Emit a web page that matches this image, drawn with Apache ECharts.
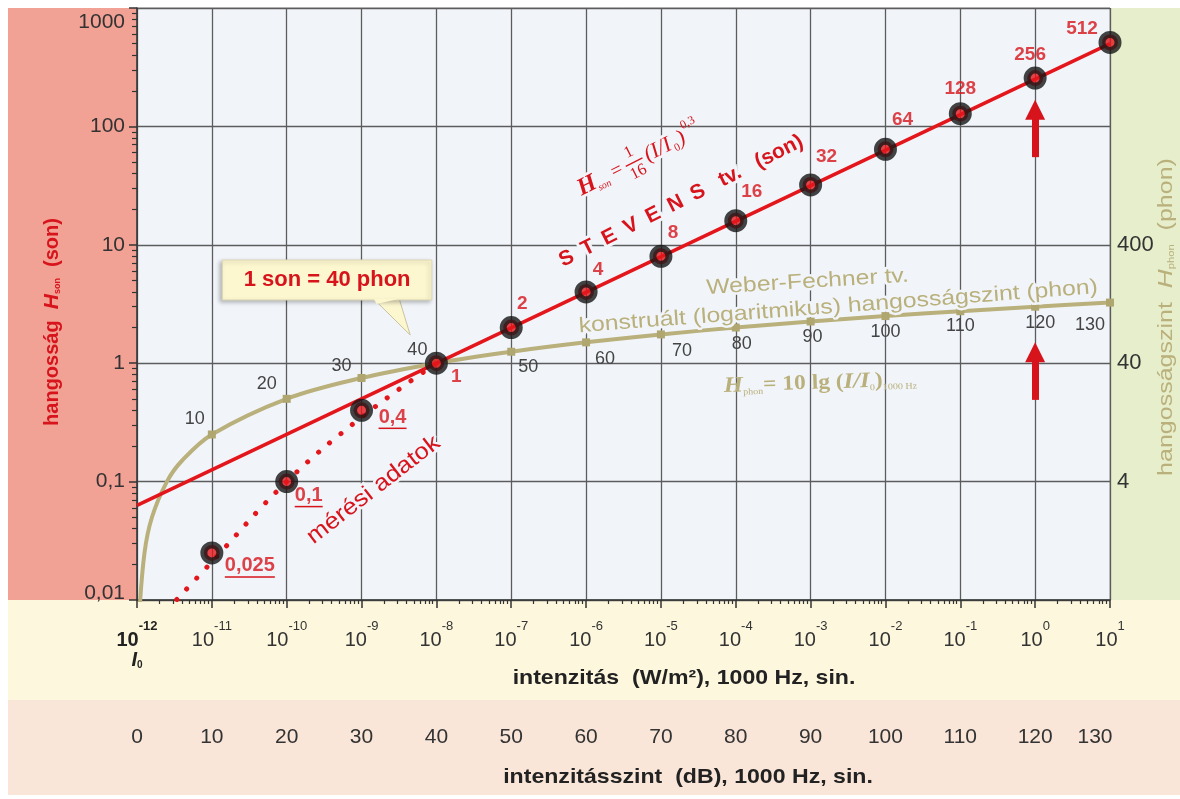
<!DOCTYPE html>
<html>
<head>
<meta charset="utf-8">
<script src="https://cdn.jsdelivr.net/npm/echarts@6/dist/echarts.min.js"></script>
<style>
html, body { margin: 0; padding: 0; background: #fff; }
#wrap { position: relative; width: 1180px; height: 799px; overflow: hidden; }
.band { position: absolute; }
#chart { position: absolute; left: 0; top: 0; width: 1180px; height: 799px; }
</style>
</head>
<body>
<div id="wrap">
  <div class="band" style="left:8px;top:8px;width:129px;height:592px;background:#f2a195"></div>
  <div class="band" style="left:1110px;top:8px;width:70px;height:592px;background:#e6eecb"></div>
  <div class="band" style="left:8px;top:600px;width:1172px;height:100px;background:#fcf7dd"></div>
  <div class="band" style="left:8px;top:700px;width:1172px;height:95px;background:#f9e6d8"></div>
  <div id="chart"></div>
</div>
<script>
// intenzitásszint (dB) a vízszintes tengelyen
var dbTicks = [0, 10, 20, 30, 40, 50, 60, 70, 80, 90, 100, 110, 120, 130];
var intensityExp = ['-12', '-11', '-10', '-9', '-8', '-7', '-6', '-5', '-4', '-3', '-2', '-1', '0', '1'];

// mérési adatok (son)
var measuredDb = [10, 20, 30, 40, 50, 60, 70, 80, 90, 100, 110, 120, 130];
var measuredSon = [0.025, 0.1, 0.4, 1, 2, 4, 8, 16, 32, 64, 128, 256, 512];
var measuredText = ['0,025', '0,1', '0,4', '1', '2', '4', '8', '16', '32', '64', '128', '256', '512'];

// Stevens egyenes
var stevensDb = [0, 130];
var stevensSon = [0.063, 500];

// pontozott mérési görbe
var trendDb = [4, 10, 20, 30, 40];
var trendSon = [0.0082, 0.021, 0.1, 0.35, 1];

// Weber-Fechner görbe (son skálán)
var phonDb = [0.3, 1, 2, 4, 6, 10, 20, 30, 40, 50, 60, 70, 80, 90, 100, 110, 120, 130];
var phonSon = [0.0075, 0.025, 0.05, 0.1, 0.15, 0.25, 0.5, 0.75, 1, 1.25, 1.5, 1.75, 2, 2.25, 2.5, 2.75, 3, 3.25];
var phonMarked = [10, 20, 30, 40, 50, 60, 70, 80, 90, 100, 110, 120, 130];

// tengelyfeliratok
var sonTicks = [0.01, 0.1, 1, 10, 100, 1000];
var sonTickText = ['0,01', '0,1', '1', '10', '100', '1000'];
var phonTicks = [0.1, 1, 10];
var phonTickText = ['4', '40', '400'];

// kis osztások
var decadeMinorDb = [3.0, 4.8, 6.0, 7.0, 7.8, 8.5, 9.0, 9.5];
var logMinorMult = [2, 3, 4, 5, 6, 7, 8, 9];

// piros nyilak a 120 dB-nél (alj, hegy)
var arrowDb = 120;
var arrowSpans = [[55, 138], [0.49, 1.24]];

var FONT = '"Liberation Sans", Arial, sans-serif';
var SERIF = '"Liberation Serif", "DejaVu Serif", serif';
var RED = '#e3161c';
var LRED = '#d7141c';
var OLIVE = '#b9b07c';

// label offsets (style, not data)
var measuredLabelOffset = [[38, 13], [22, 14], [31, 7], [20, 14], [11, -24], [12, -22], [12, -24], [16, -29], [16, -28], [17, -30], [0, -25], [-5, -23], [-28, -14]];
var phonLabelOffset = [[-17, -15], [-20, -15], [-20, -12], [-19, -13], [17, 15], [19, 17], [21, 17], [6, 16], [2, 16], [0, 16], [0, 15], [5, 16], [-20, 22]];

function sameLog(a, b) { return Math.abs(Math.log10(a) - Math.log10(b)) < 1e-6; }

var minorDbTicks = [];
for (var d = 0; d < 130; d += 10) {
    decadeMinorDb.forEach(function (o) { minorDbTicks.push(d + o); });
}
var minorSonTicks = [];
[0.01, 0.1, 1, 10, 100].forEach(function (dec) {
    logMinorMult.forEach(function (m) { minorSonTicks.push(+(dec * m).toPrecision(3)); });
});

var chart = echarts.init(document.getElementById('chart'));

var option = {
    animation: false,
    backgroundColor: 'transparent',
    grid: { left: 137, right: 70, top: 8, bottom: 199, show: true, backgroundColor: '#f1f5fa', borderColor: '#9a9a9a', borderWidth: 1 },
    xAxis: [
        {
            type: 'value', min: 0, max: 130, interval: 10, position: 'bottom',
            axisLine: { show: true, onZero: false, lineStyle: { color: '#333', width: 1.5 } },
            axisTick: { show: true, length: 8, lineStyle: { color: '#333', width: 1.5 } },
            splitLine: { show: true, lineStyle: { color: '#5c5c5c', width: 1.3 } },
            axisLabel: {
                margin: 20, showMinLabel: true, showMaxLabel: true,
                formatter: function (v) {
                    var i = Math.round(v / 10);
                    if (i === 0) return '{b0|10}{bs|' + intensityExp[0] + '}\n{bi|I}{bsub|0}';
                    return '{n|10}{s|' + intensityExp[i] + '}';
                },
                rich: {
                    n: { fontSize: 20, color: '#333', fontFamily: FONT, padding: [10, 0, 0, 0] },
                    s: { fontSize: 13, color: '#333', fontFamily: FONT, verticalAlign: 'top' },
                    b0: { fontSize: 20, fontWeight: 'bold', color: '#222', fontFamily: FONT, padding: [10, 0, 0, 0] },
                    bs: { fontSize: 13, fontWeight: 'bold', color: '#222', fontFamily: FONT, verticalAlign: 'top' },
                    bi: { fontSize: 20, fontWeight: 'bold', fontStyle: 'italic', color: '#222', fontFamily: FONT },
                    bsub: { fontSize: 10, fontWeight: 'bold', color: '#222', fontFamily: FONT, verticalAlign: 'bottom' }
                }
            }
        },
        {
            type: 'value', min: 0, max: 130, interval: 10, position: 'bottom', offset: 121,
            axisLine: { show: false }, axisTick: { show: false }, splitLine: { show: false },
            axisLabel: {
                margin: 6, color: '#333', fontSize: 21, fontFamily: FONT, showMinLabel: true, showMaxLabel: true,
                formatter: function (v) { return v === 130 ? '{last|130}' : String(v); },
                rich: { last: { fontSize: 21, color: '#333', fontFamily: FONT, padding: [0, 30, 0, 0] } }
            }
        },
        {
            type: 'value', min: 0, max: 130, position: 'bottom',
            axisLine: { show: false }, splitLine: { show: false }, axisLabel: { show: false },
            axisTick: { show: true, length: 4, customValues: minorDbTicks, lineStyle: { color: '#333', width: 1.2 } }
        }
    ],
    yAxis: [
        {
            type: 'log', logBase: 10, min: 0.01, max: 1000, position: 'left',
            axisLine: { show: true, lineStyle: { color: '#333', width: 1.5 } },
            axisTick: { show: true, length: 8, lineStyle: { color: '#333', width: 1.5 } },
            splitLine: { show: true, lineStyle: { color: '#5c5c5c', width: 1.3 } },
            axisLabel: {
                margin: 12, color: '#333', fontSize: 21, fontFamily: FONT, showMinLabel: true, showMaxLabel: true,
                formatter: function (v) {
                    for (var i = 0; i < sonTicks.length; i++) {
                        if (sameLog(v, sonTicks[i])) {
                            if (i === sonTicks.length - 1) return '{top|' + sonTickText[i] + '}';
                            if (i === 0) return '{bot|' + sonTickText[i] + '}';
                            return sonTickText[i];
                        }
                    }
                    return '';
                },
                rich: {
                    top: { fontSize: 21, color: '#333', fontFamily: FONT, padding: [28, 0, 0, 0] },
                    bot: { fontSize: 21, color: '#333', fontFamily: FONT, padding: [0, 0, 14, 0] }
                }
            }
        },
        {
            type: 'log', logBase: 10, min: 0.01, max: 1000, position: 'right',
            axisLine: { show: false }, axisTick: { show: false }, splitLine: { show: false },
            axisLabel: {
                margin: 7, color: '#333', fontSize: 22, fontFamily: FONT,
                formatter: function (v) {
                    for (var i = 0; i < phonTicks.length; i++) if (sameLog(v, phonTicks[i])) return phonTickText[i];
                    return '';
                }
            }
        },
        {
            type: 'log', logBase: 10, min: 0.01, max: 1000, position: 'left',
            axisLine: { show: false }, splitLine: { show: false }, axisLabel: { show: false },
            axisTick: { show: true, length: 5, customValues: minorSonTicks, lineStyle: { color: '#333', width: 1.2 } }
        }
    ],
    series: [
        {
            type: 'line', name: 'Weber-Fechner', smooth: 0.35, z: 2, silent: true,
            lineStyle: { color: OLIVE, width: 4 },
            itemStyle: { color: '#b0a670' },
            data: phonDb.map(function (d, i) {
                var k = phonMarked.indexOf(d);
                return {
                    value: [d, phonSon[i]],
                    symbol: k >= 0 ? 'rect' : 'none',
                    symbolSize: 8,
                    label: k >= 0 ? {
                        show: true, position: 'inside', offset: phonLabelOffset[k],
                        formatter: String(d), color: '#444', fontSize: 18, fontFamily: FONT
                    } : { show: false }
                };
            })
        },
        {
            type: 'line', name: 'mérési görbe', smooth: 0.4, z: 3, silent: true, symbol: 'none',
            lineStyle: { color: RED, width: 5, type: [0.1, 14.5], cap: 'round' },
            data: trendDb.map(function (d, i) { return [d, trendSon[i]]; })
        },
        {
            type: 'line', name: 'Stevens', z: 4, silent: true, symbol: 'none',
            lineStyle: { color: RED, width: 3.5 },
            data: stevensDb.map(function (d, i) { return [d, stevensSon[i]]; }),
            markLine: {
                silent: true, symbol: ['none', 'triangle'], symbolSize: 20,
                label: { show: false }, emphasis: { disabled: true },
                lineStyle: { color: LRED, width: 7, type: 'solid' },
                data: arrowSpans.map(function (a) { return [{ coord: [arrowDb, a[0]] }, { coord: [arrowDb, a[1]] }]; })
            }
        },
        {
            type: 'scatter', name: 'mérési adatok', z: 6, silent: true,
            symbol: 'circle', symbolSize: 16,
            itemStyle: { color: RED, borderColor: '#151515', borderWidth: 7 },
            data: measuredDb.map(function (d, i) {
                return {
                    value: [d, measuredSon[i]],
                    label: {
                        show: true, position: 'inside', offset: measuredLabelOffset[i],
                        formatter: measuredText[i],
                        color: LRED, fontSize: i < 3 ? 20 : 19, fontWeight: 'bold', fontFamily: FONT
                    }
                };
            })
        }
    ]
};

chart.setOption(option);

function P(db, son) { return chart.convertToPixel({ xAxisIndex: 0, yAxisIndex: 0 }, [db, son]); }
var HALO = '#f1f5fa';
var deg = Math.PI / 180;

var stevensAt = P(72.7, 23.4);
var formulaAt = P(59, 29);
var wfAt = P(89.6, 4.85);
var konstAt = P(93.7, 2.99);
var hphonAt = P(91.3, 0.68);
var meresAt = P(31.6, 0.085);
var boxA = P(11.4, 7.44), boxB = P(39.4, 3.42);
var pA = P(31.5, 3.42), pB = P(35, 3.42), pTip = P(36.5, 1.73);

var SP = '\u2002';
var graphics = [
    {
        type: 'text', x: stevensAt[0], y: stevensAt[1], rotation: 26.7 * deg, z: 50,
        style: { text: ['S', 'T', 'E', 'V', 'E', 'N', 'S'].join(SP) + '   tv.   (son)', font: 'bold 21px ' + FONT, fill: LRED, align: 'center', verticalAlign: 'middle', stroke: HALO, lineWidth: 6, strokeFirst: true }
    },
    {
        type: 'group', x: formulaAt[0], y: formulaAt[1], rotation: 26.7 * deg, scaleX: 1.1, scaleY: 1.1, z: 50,
        children: [
            { type: 'text', x: 0, y: 0, style: { text: 'H', font: 'italic bold 22px ' + SERIF, fill: LRED, verticalAlign: 'middle', stroke: HALO, lineWidth: 5, strokeFirst: true } },
            { type: 'text', x: 17, y: 7, style: { text: 'son', font: 'italic 9px ' + SERIF, fill: LRED, verticalAlign: 'middle' } },
            { type: 'text', x: 34, y: 0, style: { text: '=', font: '18px ' + SERIF, fill: LRED, verticalAlign: 'middle' } },
            { type: 'text', x: 56, y: -10, style: { text: '1', font: '15px ' + SERIF, fill: LRED, align: 'center', verticalAlign: 'middle' } },
            { type: 'line', shape: { x1: 48, y1: 0, x2: 65, y2: 0 }, style: { stroke: LRED, lineWidth: 1.2 } },
            { type: 'text', x: 56, y: 10, style: { text: '16', font: '15px ' + SERIF, fill: LRED, align: 'center', verticalAlign: 'middle' } },
            { type: 'text', x: 68, y: 0, style: { text: '(I/I', font: 'italic 20px ' + SERIF, fill: LRED, verticalAlign: 'middle', stroke: HALO, lineWidth: 5, strokeFirst: true } },
            { type: 'text', x: 95, y: 6, style: { text: '0', font: '10px ' + SERIF, fill: LRED, verticalAlign: 'middle' } },
            { type: 'text', x: 101, y: 0, style: { text: ')', font: 'italic 20px ' + SERIF, fill: LRED, verticalAlign: 'middle' } },
            { type: 'text', x: 109, y: -10, style: { text: '0,3', font: '11px ' + SERIF, fill: LRED, verticalAlign: 'middle' } }
        ]
    },
    {
        type: 'text', x: wfAt[0], y: wfAt[1], rotation: 3.5 * deg, scaleX: 1.18, z: 50,
        style: { text: 'Weber-Fechner tv.', font: '21px ' + FONT, fill: OLIVE, align: 'center', verticalAlign: 'middle', stroke: HALO, lineWidth: 5, strokeFirst: true }
    },
    {
        type: 'text', x: konstAt[0], y: konstAt[1], rotation: 4.3 * deg, scaleX: 1.18, z: 50,
        style: { text: 'konstruált (logaritmikus) hangosságszint (phon)', font: '21px ' + FONT, fill: OLIVE, align: 'center', verticalAlign: 'middle', stroke: HALO, lineWidth: 5, strokeFirst: true }
    },
    {
        type: 'text', x: hphonAt[0], y: hphonAt[1], rotation: 2 * deg, scaleX: 1.12, z: 50,
        style: {
            text: '{h|H}{s|phon}{t|= 10 lg (}{h|I/I}{s|0}{t|)}{s|1000 Hz}', align: 'center', verticalAlign: 'middle',
            rich: {
                h: { font: 'italic bold 22px ' + SERIF, fill: OLIVE, textStroke: HALO, textStrokeWidth: 4 },
                t: { font: 'bold 21px ' + SERIF, fill: OLIVE, textStroke: HALO, textStrokeWidth: 4 },
                s: { font: '9px ' + SERIF, fill: OLIVE, verticalAlign: 'bottom' }
            }
        }
    },
    {
        type: 'text', x: meresAt[0], y: meresAt[1], rotation: 37.8 * deg, scaleX: 1.12, z: 50,
        style: { text: 'mérési adatok', font: '23px ' + FONT, fill: LRED, align: 'center', verticalAlign: 'middle', stroke: HALO, lineWidth: 5, strokeFirst: true }
    },
    {
        type: 'polygon', z: 49,
        shape: { points: [[pA[0], pA[1] - 2], [pB[0], pB[1] - 2], pTip] },
        style: { fill: '#fdf7cf', stroke: '#c9c3a0', lineWidth: 1 }
    },
    {
        type: 'rect', z: 49,
        shape: { x: boxA[0], y: boxA[1], width: boxB[0] - boxA[0], height: boxB[1] - boxA[1] },
        style: { fill: '#fdf7cf', stroke: '#dcd6b4', lineWidth: 1, shadowBlur: 4, shadowColor: 'rgba(0,0,0,0.25)', shadowOffsetX: -2, shadowOffsetY: 2 }
    },
    {
        type: 'polygon', z: 49,
        shape: { points: [[pA[0] + 1, pA[1] - 1], [pB[0] - 1, pB[1] - 1], [pA[0] + 4, pA[1] + 4]] },
        style: { fill: '#fdf7cf' }
    },
    {
        type: 'text', x: (boxA[0] + boxB[0]) / 2, y: (boxA[1] + boxB[1]) / 2, z: 50,
        style: { text: '1 son = 40 phon', font: 'bold 22px ' + FONT, fill: LRED, align: 'center', verticalAlign: 'middle' }
    },
    {
        type: 'text', x: 52, y: 322, rotation: 90 * deg, z: 50,
        style: {
            text: '{t|hangosság  }{h|H}{s|son}{t|  (son)}', align: 'center', verticalAlign: 'middle',
            rich: {
                t: { font: 'bold 20px ' + FONT, fill: LRED },
                h: { font: 'italic bold 21px ' + FONT, fill: LRED },
                s: { font: 'bold 9px ' + FONT, fill: LRED, verticalAlign: 'bottom' }
            }
        }
    },
    {
        type: 'text', x: 1166, y: 317, rotation: 90 * deg, scaleX: 1.25, z: 50,
        style: {
            text: '{t|hangosságszint  }{h|H}{s|phon}{t|  (phon)}', align: 'center', verticalAlign: 'middle',
            rich: {
                t: { font: '20px ' + FONT, fill: OLIVE },
                h: { font: 'italic 21px ' + FONT, fill: OLIVE },
                s: { font: '9px ' + FONT, fill: OLIVE, verticalAlign: 'bottom' }
            }
        }
    },
    {
        type: 'text', x: 684, y: 678, scaleX: 1.1, z: 50,
        style: { text: 'intenzitás  (W/m²), 1000 Hz, sin.', font: 'bold 21px ' + FONT, fill: '#222', align: 'center', verticalAlign: 'middle' }
    },
    {
        type: 'text', x: 688, y: 777, scaleX: 1.1, z: 50,
        style: { text: 'intenzitásszint  (dB), 1000 Hz, sin.', font: 'bold 21px ' + FONT, fill: '#222', align: 'center', verticalAlign: 'middle' }
    }
];

// aláhúzás az első három mért érték alatt
var underlineWidth = [50, 28, 28];
underlineWidth.forEach(function (w, i) {
    var c = P(measuredDb[i], measuredSon[i]);
    var cx = c[0] + measuredLabelOffset[i][0], cy = c[1] + measuredLabelOffset[i][1] + 11;
    graphics.push({ type: 'line', z: 50, shape: { x1: cx - w / 2, y1: cy, x2: cx + w / 2, y2: cy }, style: { stroke: LRED, lineWidth: 1.5 } });
});

chart.setOption({ graphic: graphics });
</script>
</body>
</html>
